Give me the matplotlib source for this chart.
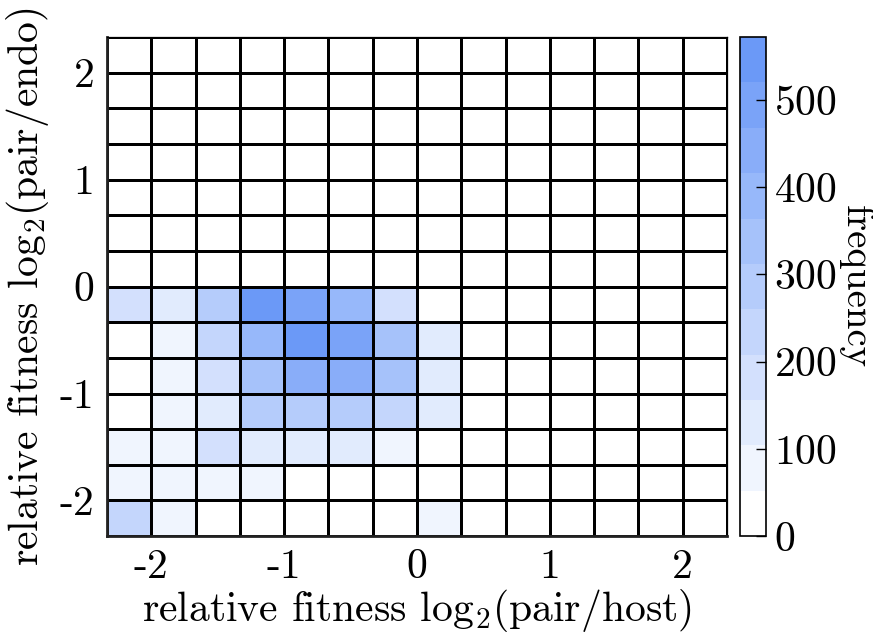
import matplotlib
matplotlib.use("Agg")
import matplotlib.pyplot as plt
import numpy as np
from matplotlib.colors import ListedColormap, BoundaryNorm

plt.rcParams['font.family'] = 'cmr10'
plt.rcParams['mathtext.fontset'] = 'cm'
plt.rcParams['axes.unicode_minus'] = False
plt.rcParams['axes.formatter.use_mathtext'] = True

# bin edges: 14 bins of width 1/3 on each axis
x_edges = np.arange(-7, 8) / 3.0
y_edges = np.arange(-7, 8) / 3.0

# counts, rows from the bottom bin (y in [-7/3,-2]) upward, columns left to right
counts = [
    [220, 70,   0,   0,   0,   0,   0,  55, 0, 0, 0, 0, 0, 0],
    [ 70, 65,  60,  55,   0,   0,   0,   0, 0, 0, 0, 0, 0, 0],
    [ 70, 75, 170, 130, 125, 120,  80,   0, 0, 0, 0, 0, 0, 0],
    [  0, 60, 120, 280, 290, 275, 230, 110, 0, 0, 0, 0, 0, 0],
    [  0, 60, 170, 325, 440, 450, 330, 110, 0, 0, 0, 0, 0, 0],
    [  0, 70, 230, 390, 568, 480, 330, 120, 0, 0, 0, 0, 0, 0],
    [180, 130, 280, 560, 500, 390, 170,  0, 0, 0, 0, 0, 0, 0],
    [  0,  0,   0,   0,   0,   0,   0,   0, 0, 0, 0, 0, 0, 0],
    [  0,  0,   0,   0,   0,   0,   0,   0, 0, 0, 0, 0, 0, 0],
    [  0,  0,   0,   0,   0,   0,   0,   0, 0, 0, 0, 0, 0, 0],
    [  0,  0,   0,   0,   0,   0,   0,   0, 0, 0, 0, 0, 0, 0],
    [  0,  0,   0,   0,   0,   0,   0,   0, 0, 0, 0, 0, 0, 0],
    [  0,  0,   0,   0,   0,   0,   0,   0, 0, 0, 0, 0, 0, 0],
    [  0,  0,   0,   0,   0,   0,   0,   0, 0, 0, 0, 0, 0, 0],
]

tick_vals = [-2, -1, 0, 1, 2]
tick_labels = ['-2', '-1', '0', '1', '2']
cbar_ticks = [0, 100, 200, 300, 400, 500]

# 11-step white-to-blue colormap
n_levels = 11
c_max = 572
top = np.array([0.42, 0.60, 0.97])
colors = [1 - (k / (n_levels - 1)) * (1 - top) for k in range(n_levels)]
cmap = ListedColormap(colors)
norm = BoundaryNorm(np.linspace(0, c_max, n_levels + 1), n_levels)

fig = plt.figure(figsize=(8.73, 6.39), dpi=100)
ax = fig.add_axes([0.1226, 0.161, 0.7102, 0.781])
cax = fig.add_axes([0.8477, 0.161, 0.0297, 0.781])

mesh = ax.pcolormesh(x_edges, y_edges, np.array(counts), cmap=cmap, norm=norm,
                     edgecolors='black', linewidth=0.9)
ax.set_xlim(x_edges[0], x_edges[-1])
ax.set_ylim(y_edges[0], y_edges[-1])
ax.set_xticks(tick_vals)
ax.set_xticklabels(tick_labels)
ax.set_yticks(tick_vals)
ax.set_yticklabels(tick_labels)
ax.tick_params(direction='in', length=6, width=1, labelsize=30, pad=9)
for s in ['left', 'bottom']:
    ax.spines[s].set_linewidth(2)
    ax.spines[s].set_color('#222222')
for s in ['top', 'right']:
    ax.spines[s].set_linewidth(0.9)
ax.set_xlabel('relative fitness log$_2$(pair/host)', fontsize=30, labelpad=1)
ax.set_ylabel('relative fitness log$_2$(pair/endo)', fontsize=30, labelpad=6)

cb = fig.colorbar(mesh, cax=cax, ticks=cbar_ticks)
cb.ax.minorticks_off()
cb.ax.tick_params(direction='in', length=7, width=1, labelsize=30, pad=6)
cb.outline.set_linewidth(1.2)
cax.text(4.45, 0.5, 'frequency', transform=cax.transAxes, fontsize=28,
         rotation=-90, ha='center', va='center')

fig.savefig('out.png', dpi=100)
